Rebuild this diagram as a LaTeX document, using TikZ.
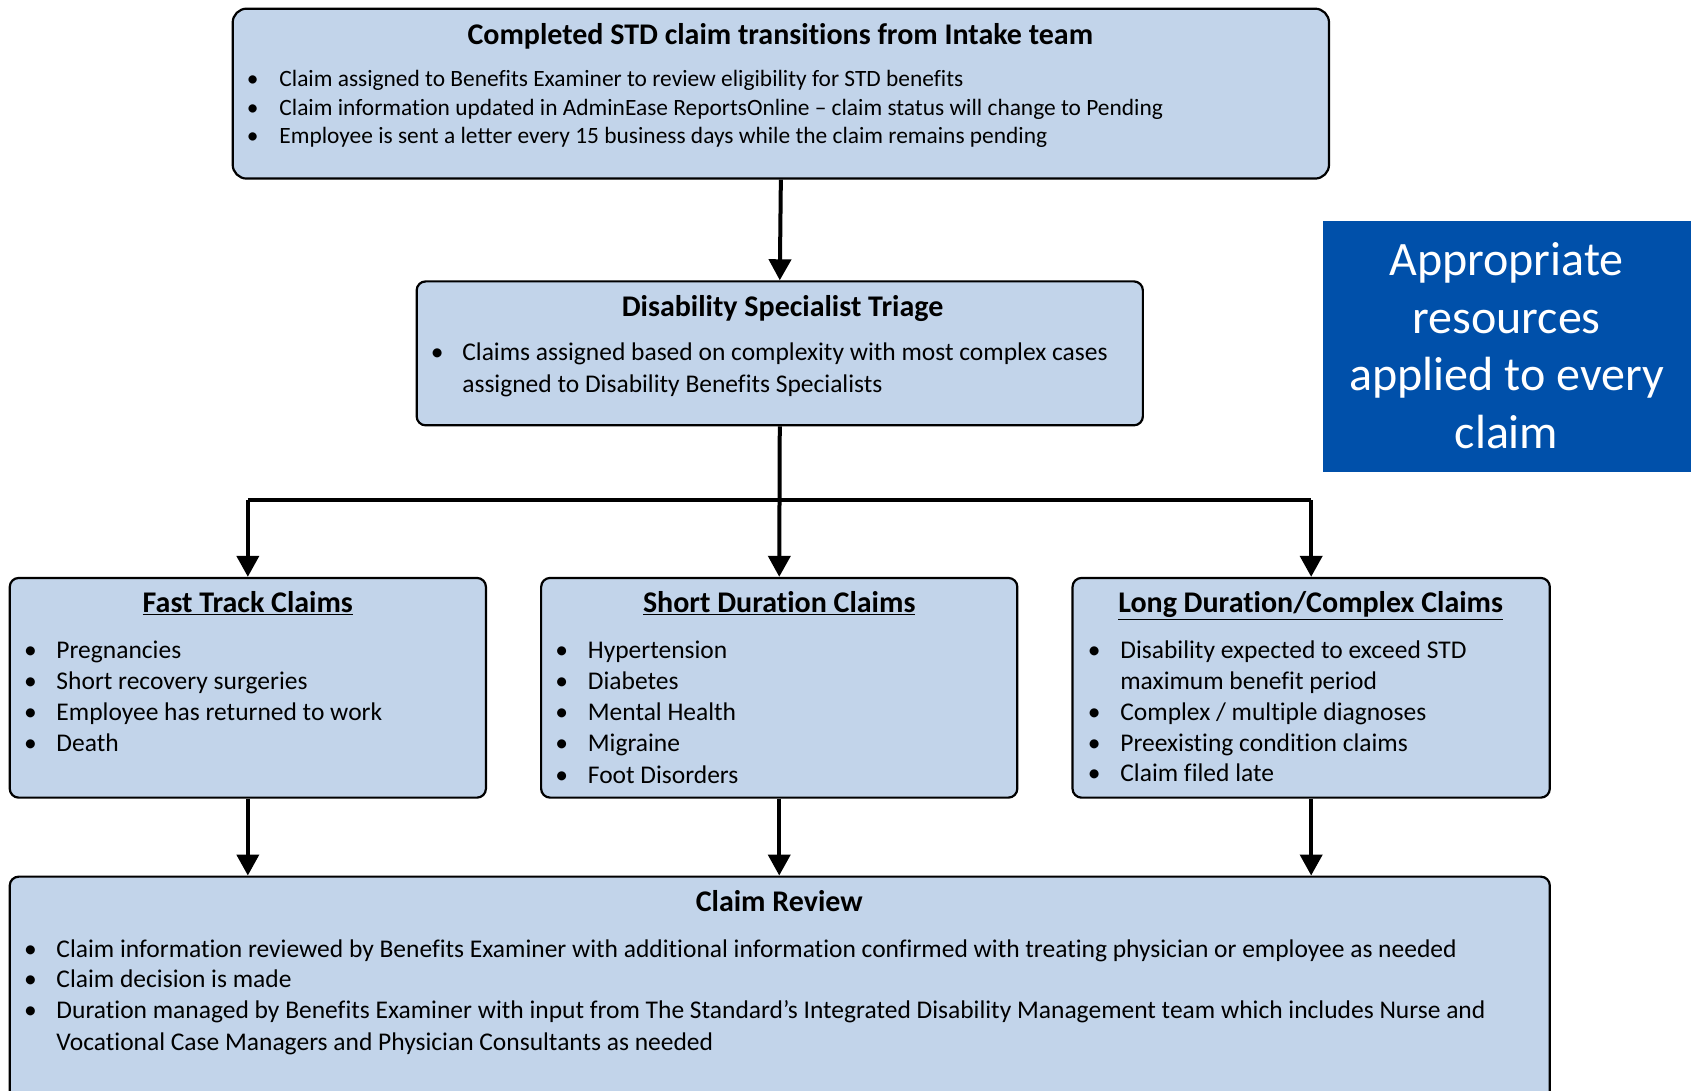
\documentclass[tikz,border=0pt]{standalone}
\usepackage{fontspec}
\setmainfont{Carlito}[Ligatures=NoCommon]
\usetikzlibrary{arrows.meta,fit}
\definecolor{boxfill}{RGB}{194,212,234}
\definecolor{boxblue}{RGB}{0,80,170}
\tikzset{
  box/.style={draw=black, line width=2.2pt, fill=boxfill, rounded corners=9pt, inner sep=0pt},
  bigbox/.style={box, rounded corners=14pt},
  bluebox/.style={fill=boxblue, draw=none, inner sep=0pt},
  conn/.style={line width=4pt, draw=black},
  arr/.style={conn, -{Triangle[width=22pt,length=21pt]}},
  ttl/.style={font=\bfseries\fontsize{30}{36}\selectfont, inner sep=0pt, anchor=base},
  bul/.style={inner sep=0pt, anchor=base west},
  txt/.style={inner sep=0pt, anchor=base west},
  blt/.style={font=\fontsize{48}{57}\selectfont, text=white, inner sep=0pt, anchor=base},
}
\def\boff{8.5}
\def\toff{9.3}
\newcommand{\itm}[5]{\node[bul] (#1b) at (#2,{#4+\boff}) {•};\node[txt] (#1) at (#3,{#4+\boff}) {#5};}
\newcommand{\lin}[4]{\node[txt] (#1) at (#2,{#3+\boff}) {#4};}
\begin{document}
\begin{tikzpicture}[x=1.0823pt,y=-1.0823pt]
\clip (0,0) rectangle (1568,1008);
\useasboundingbox (0,0) rectangle (1568,1008);
% boxes
\node[bigbox, fit={(215,8) (1228,165)}] (top) {};
\node[box, fit={(385,260) (1056,393)}] (triage) {};
\node[box, fit={(9,534) (449,737)}] (fast) {};
\node[box, fit={(500,534) (940,737)}] (short) {};
\node[box, fit={(991,534) (1432,737)}] (long) {};
\node[box, fit={(9,810) (1432,1040)}] (review) {};
\node[bluebox, fit={(1222,204) (1562,436)}] (blue) {};
% top box text
\node[ttl] (toptitle) at (721,{32+\toff}) {Completed STD claim transitions from Intake team};
\begin{scope}[every node/.append style={font=\fontsize{23.4}{28}\selectfont}]
\def\boff{8}
\itm{t1}{228}{258}{72}{Claim assigned to Benefits Examiner to review eligibility for STD benefits}
\itm{t2}{228}{258}{99}{Claim information updated in AdminEase ReportsOnline -- claim status will change to Pending}
\itm{t3}{228}{258}{125}{Employee is sent a letter every 15 business days while the claim remains pending}
\end{scope}
% triage
\node[ttl] (triagetitle) at (723,{283+\toff}) {Disability Specialist Triage};
\begin{scope}[every node/.append style={font=\fontsize{25.5}{30}\selectfont}]
\itm{r1}{398}{427}{325}{Claims assigned based on complexity with most complex cases}
\lin{r2}{427}{354}{assigned to Disability Benefits Specialists}
\end{scope}
% box titles
\node[ttl] (fasttitle) at (229,{557+\toff}) {\underline{Fast Track Claims}};
\node[ttl] (shorttitle) at (720,{557+\toff}) {\underline{Short Duration Claims}};
\node[ttl] (longtitle) at (1211,{557+\toff}) {\underline{Long Duration/Complex Claims}};
\begin{scope}[every node/.append style={font=\fontsize{25.5}{30}\selectfont}]
\itm{f1}{22}{52}{600}{Pregnancies}
\itm{f2}{22}{52}{629}{Short recovery surgeries}
\itm{f3}{22}{52}{657}{Employee has returned to work}
\itm{f4}{22}{52}{686}{Death}
\itm{s1}{513}{543}{600}{Hypertension}
\itm{s2}{513}{543}{629}{Diabetes}
\itm{s3}{513}{543}{657}{Mental Health}
\itm{s4}{513}{543}{686}{Migraine}
\itm{s5}{513}{543}{715}{Foot Disorders}
\itm{l1}{1005}{1035}{600}{Disability expected to exceed STD}
\lin{l2}{1035}{629}{maximum benefit period}
\itm{l3}{1005}{1035}{657}{Complex / multiple diagnoses}
\itm{l4}{1005}{1035}{686}{Preexisting condition claims}
\itm{l5}{1005}{1035}{714}{Claim filed late}
\end{scope}
% review
\node[ttl] (reviewtitle) at (720,{833+\toff}) {Claim Review};
\begin{scope}[every node/.append style={font=\fontsize{25.5}{30}\selectfont}]
\itm{v1}{22}{52}{876}{Claim information reviewed by Benefits Examiner with additional information confirmed with treating physician or employee as needed}
\itm{v2}{22}{52}{904}{Claim decision is made}
\itm{v3}{22}{52}{933}{Duration managed by Benefits Examiner with input from The Standard’s Integrated Disability Management team which includes Nurse and}
\lin{v4}{52}{962}{Vocational Case Managers and Physician Consultants as needed}
\end{scope}
% blue box text
\def\loff{15}
\node[blt] (bl1) at (1392,{240+\loff}) {Appropriate};
\node[blt] (bl2) at (1392,{293+\loff}) {resources};
\node[blt] (bl3) at (1392,{346+\loff}) {applied to every};
\node[blt] (bl4) at (1392,{399+\loff}) {claim};
% connectors
\coordinate (busy) at (720,462);
\draw[arr] (top.south) -- (triage.north);
\draw[arr] (triage.south) -- (short.north);
\draw[conn] (fast.north |- busy) -- (long.north |- busy);
\draw[arr] (fast.north |- busy) -- (fast.north);
\draw[arr] (long.north |- busy) -- (long.north);
\draw[arr] (fast.south) -- (fast.south |- review.north);
\draw[arr] (short.south) -- (short.south |- review.north);
\draw[arr] (long.south) -- (long.south |- review.north);
\end{tikzpicture}
\end{document}
